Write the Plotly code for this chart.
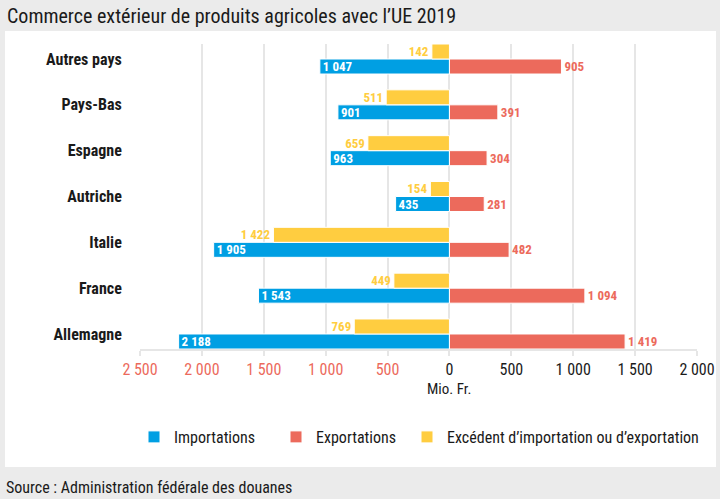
import plotly.graph_objects as go

# Data (Mio. Fr.)
countries = ["Autres pays", "Pays-Bas", "Espagne", "Autriche", "Italie", "France", "Allemagne"]
imports = [1047, 901, 963, 435, 1905, 1543, 2188]
exports = [905, 391, 304, 281, 482, 1094, 1419]
excess = [142, 511, 659, 154, 1422, 449, 769]

tick_vals = [-2500, -2000, -1500, -1000, -500, 0, 500, 1000, 1500, 2000]

FONT = "Roboto Condensed, DejaVu Sans Condensed, Roboto, sans-serif"
BLUE = "#009fe3"
RED = "#ec6a5c"
YELLOW = "#ffcd40"


def fmt(v):
    return f"{abs(v):,}".replace(",", " ")


def ticklabel(v):
    if v < 0:
        return f"<span style='color:{RED}'>{fmt(v)}</span>"
    return fmt(v)


bar_w = 0.3275

fig = go.Figure()

fig.add_trace(go.Bar(
    y=countries, x=[-v for v in imports], orientation="h",
    name="Importations", marker=dict(color=BLUE, line=dict(color="white", width=1)),
    offset=-bar_w, width=bar_w, legend="legend",
    text=[fmt(v) for v in imports], textposition="inside", insidetextanchor="end",
    textfont=dict(color="white", size=13, family=FONT, weight="bold"),
    constraintext="none", hoverinfo="skip",
))
fig.add_trace(go.Bar(
    y=countries, x=exports, orientation="h",
    name="Exportations", marker=dict(color=RED, line=dict(color="white", width=1)),
    offset=-bar_w, width=bar_w, legend="legend2",
    text=[fmt(v) for v in exports], textposition="outside",
    textfont=dict(color=RED, size=13, family=FONT, weight="bold"),
    constraintext="none", cliponaxis=False, hoverinfo="skip",
))
fig.add_trace(go.Bar(
    y=countries, x=[-v for v in excess], orientation="h",
    name="Excédent d’importation ou d’exportation",
    marker=dict(color=YELLOW, line=dict(color="white", width=1)),
    offset=0, width=bar_w, legend="legend3",
    text=[fmt(v) for v in excess], textposition="outside",
    textfont=dict(color=YELLOW, size=13, family=FONT, weight="bold"),
    constraintext="none", cliponaxis=False, hoverinfo="skip",
))

# plot area: x 140..697, y 44..349 (px)
L, R, T, B = 140, 697, 44, 349
W, H = R - L, B - T


def px_x(p):
    return (p - L) / W


def px_y(p):
    return (B - p) / H


def legend_at(px):
    return dict(
        orientation="h", x=px_x(px), xanchor="left", y=px_y(437), yanchor="middle",
        font=dict(size=16, color="#1a1a1a"), bgcolor="rgba(0,0,0,0)", itemclick=False,
    )


fig.update_layout(
    width=720, height=499,
    margin=dict(l=L, r=720 - R, t=T, b=499 - B),
    paper_bgcolor="#ebebeb", plot_bgcolor="white",
    barmode="overlay",
    font=dict(family=FONT, size=15, color="#1a1a1a"),
    title=dict(
        text="Commerce extérieur de produits agricoles avec l’UE 2019",
        x=7 / 720, xanchor="left", y=1 - 16 / 499, yanchor="middle",
        font=dict(size=20, color="#1a1a1a", family=FONT),
    ),
    xaxis=dict(
        range=[-2500, 2000], tickvals=tick_vals, ticktext=[ticklabel(v) for v in tick_vals],
        showgrid=True, gridcolor="#e6e6e6", gridwidth=2,
        zeroline=False, showline=True, linecolor="#e6e6e6", linewidth=2,
        ticks="outside", ticklen=5, tickcolor="#e6e6e6", tickwidth=2,
        tickfont=dict(size=16, color="#1a1a1a"), automargin=False,
    ),
    yaxis=dict(
        categoryorder="array", categoryarray=countries[::-1],
        range=[-bar_w, len(countries) - 1 + bar_w],
        showgrid=False, zeroline=False, showline=False,
        ticks="outside", ticklen=14, tickcolor="rgba(0,0,0,0)",
        tickfont=dict(size=16, color="#1a1a1a", weight="bold"), automargin=False,
    ),
    showlegend=True,
    legend=legend_at(134),
    legend2=legend_at(276),
    legend3=legend_at(407),
    shapes=[dict(
        type="rect", xref="paper", yref="paper", layer="below",
        x0=px_x(5), x1=px_x(716), y0=px_y(467), y1=px_y(31),
        fillcolor="white", line=dict(width=0),
    )],
    annotations=[
        dict(text="Mio. Fr.", x=0, xref="x", y=px_y(389), yref="paper", yanchor="middle",
             showarrow=False, font=dict(size=15, color="#1a1a1a")),
        dict(text="Source : Administration fédérale des douanes", x=px_x(4), xref="paper",
             y=px_y(487), yref="paper", xanchor="left", yanchor="middle", showarrow=False,
             font=dict(size=16, color="#1a1a1a")),
    ],
)

# drop the default 8px body margin so the figure sits at the page origin
fig.write_html("out.html", config={"displayModeBar": False},
               post_script="document.body.style.margin = '0';")
